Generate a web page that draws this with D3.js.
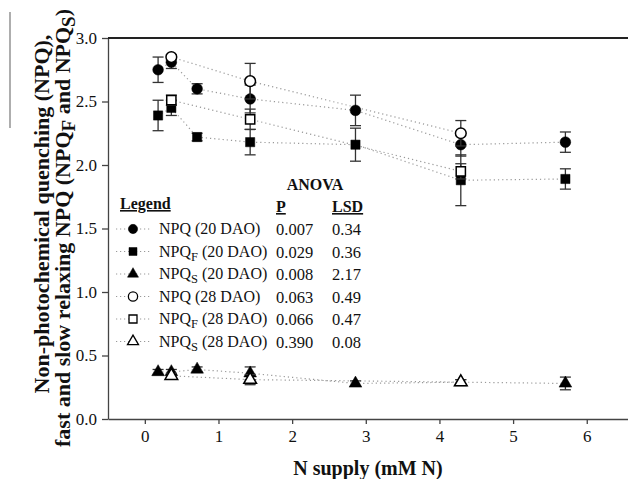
<!DOCTYPE html>
<html>
<head>
<meta charset="utf-8">
<script src="https://cdn.jsdelivr.net/npm/d3@7"></script>
<style>
  body { margin: 0; background: #fff; }
  svg text { font-family: "Liberation Serif", "Times New Roman", serif; fill: #111; }
  .title { font-weight: bold; }
</style>
</head>
<body>
<div id="chart"></div>
<script>
// N supply levels (mM N)
const nSupply20 = [0.18, 0.36, 0.71, 1.43, 2.86, 4.29, 5.71];
const nSupply28 = [0.36, 1.43, 4.29];

// 20 DAO series and their error bars
const npq20   = [2.75, 2.81, 2.60, 2.52, 2.43, 2.16, 2.18];
const npq20E  = [0.10, 0.05, 0.04, 0.11, 0.12, 0.09, 0.08];
const npqF20  = [2.39, 2.45, 2.22, 2.18, 2.16, 1.88, 1.89];
const npqF20E = [0.12, 0.06, 0.03, 0.10, 0.13, 0.20, 0.08];
const npqS20  = [0.37, 0.37, 0.39, 0.36, 0.28, 0.29, 0.28];
const npqS20E = [0.02, 0.02, 0.02, 0.05, 0.02, 0.02, 0.05];

// 28 DAO series
const npq28   = [2.85, 2.66, 2.25];
const npq28E  = [0.02, 0.14, 0.10];
const npqF28  = [2.51, 2.36, 1.95];
const npqF28E = [0.04, 0.08, 0.06];
const npqS28  = [0.34, 0.31, 0.29];
const npqS28E = [0.02, 0.04, 0.02];

// ANOVA table
const pValues   = ['0.007', '0.029', '0.008', '0.063', '0.066', '0.390'];
const lsdValues = ['0.34', '0.36', '2.17', '0.49', '0.47', '0.08'];

const yTicks = [0, 0.5, 1.0, 1.5, 2.0, 2.5, 3.0];
const xTicks = [0, 1, 2, 3, 4, 5, 6];

const series = [
  {name: 'NPQ', sub: '', dao: '20', x: nSupply20, y: npq20, e: npq20E, shape: d3.symbolCircle, open: false},
  {name: 'NPQ', sub: 'F', dao: '20', x: nSupply20, y: npqF20, e: npqF20E, shape: d3.symbolSquare, open: false},
  {name: 'NPQ', sub: 'S', dao: '20', x: nSupply20, y: npqS20, e: npqS20E, shape: d3.symbolTriangle, open: false},
  {name: 'NPQ', sub: '', dao: '28', x: nSupply28, y: npq28, e: npq28E, shape: d3.symbolCircle, open: true},
  {name: 'NPQ', sub: 'F', dao: '28', x: nSupply28, y: npqF28, e: npqF28E, shape: d3.symbolSquare, open: true},
  {name: 'NPQ', sub: 'S', dao: '28', x: nSupply28, y: npqS28, e: npqS28E, shape: d3.symbolTriangle, open: true}
];

const W = 628, H = 479;
const serif = '"Liberation Serif", "Times New Roman", serif';
const svg = d3.select('#chart').append('svg').attr('width', W).attr('height', H)
  .attr('font-family', serif);

const x = d3.scaleLinear().domain([-0.5, 6.56]).range([108, 628]);
const y = d3.scaleLinear().domain([0, 3]).range([419, 38]);

const symSize = {circle: 90, square: 85, triangle: 70};
function symPath(shape, k) {
  const s = shape === d3.symbolCircle ? symSize.circle : shape === d3.symbolSquare ? symSize.square : symSize.triangle;
  return d3.symbol().type(shape).size(s * (k || 1))();
}

// stray scan mark on the left edge
svg.append('line').attr('x1', 10).attr('x2', 10).attr('y1', 12).attr('y2', 128)
  .attr('stroke', '#777').attr('stroke-width', 1.2);

// axes
const yAxis = d3.axisLeft(y).tickValues(yTicks).tickFormat(d3.format('.1f')).tickSize(6).tickSizeOuter(0).tickPadding(5);
const gy = svg.append('g').attr('transform', 'translate(108,0)').call(yAxis);

const xAxis = d3.axisBottom(x).tickValues(xTicks).tickFormat(d3.format('d')).tickSize(5).tickSizeOuter(0).tickPadding(6);
const gx = svg.append('g').attr('transform', 'translate(0,419)').call(xAxis);

[gx, gy].forEach(g => {
  g.attr('font-family', serif).attr('font-size', 17);
  g.selectAll('path, line').attr('stroke', '#444').attr('stroke-width', 1.3);
  g.selectAll('text').attr('fill', '#111');
});

// top frame line
svg.append('line').attr('x1', 108).attr('x2', 628).attr('y1', y(3)).attr('y2', y(3))
  .attr('stroke', '#222').attr('stroke-width', 2);

// dotted connecting lines
const line = d3.line().x(d => x(d[0])).y(d => y(d[1]));
series.forEach(s => {
  const pts = s.x.map((v, i) => [v, s.y[i]]);
  svg.append('path').datum(pts).attr('d', line)
    .attr('fill', 'none').attr('stroke', '#999').attr('stroke-width', 1.2)
    .attr('stroke-dasharray', '1.2,3');
});

// error bars and markers
series.forEach(s => {
  const g = svg.append('g');
  s.x.forEach((v, i) => {
    const cx = x(v), lo = y(s.y[i] - s.e[i]), hi = y(s.y[i] + s.e[i]);
    g.append('line').attr('x1', cx).attr('x2', cx).attr('y1', lo).attr('y2', hi)
      .attr('stroke', '#333').attr('stroke-width', 1.3);
    [lo, hi].forEach(yy => {
      g.append('line').attr('x1', cx - 5.5).attr('x2', cx + 5.5).attr('y1', yy).attr('y2', yy)
        .attr('stroke', '#333').attr('stroke-width', 1.3);
    });
  });
  g.selectAll('path.pt').data(s.x).enter().append('path').attr('class', 'pt')
    .attr('d', symPath(s.shape))
    .attr('transform', (v, i) => `translate(${x(v)},${y(s.y[i])})`)
    .attr('fill', s.open ? '#fff' : '#000')
    .attr('stroke', '#000').attr('stroke-width', s.open ? 1.5 : 0.5);
});

// legend + ANOVA table
const lg = svg.append('g');
lg.append('text').attr('class', 'title').attr('x', 120).attr('y', 209)
  .style('font-size', '16px').style('text-decoration', 'underline').text('Legend');
lg.append('text').attr('class', 'title').attr('x', 315).attr('y', 190).attr('text-anchor', 'middle')
  .style('font-size', '16px').text('ANOVA');
lg.append('text').attr('class', 'title').attr('x', 276).attr('y', 212)
  .style('font-size', '16px').style('text-decoration', 'underline').text('P');
lg.append('text').attr('class', 'title').attr('x', 332).attr('y', 212)
  .style('font-size', '16px').style('text-decoration', 'underline').text('LSD');

series.forEach((s, i) => {
  const ry = 229 + i * 22.5;
  lg.append('line').attr('x1', 116).attr('x2', 151).attr('y1', ry).attr('y2', ry)
    .attr('stroke', '#999').attr('stroke-width', 1.1).attr('stroke-dasharray', '1.2,2.8');
  lg.append('path').attr('d', symPath(s.shape, 0.75)).attr('transform', `translate(133,${ry})`)
    .attr('fill', s.open ? '#fff' : '#000').attr('stroke', '#000').attr('stroke-width', s.open ? 1.3 : 0.5);
  const t = lg.append('text').attr('x', 159).attr('y', ry + 5).style('font-size', '16px');
  t.append('tspan').text(s.name);
  if (s.sub) {
    t.append('tspan').attr('dy', 4).style('font-size', '12.5px').text(s.sub);
    t.append('tspan').attr('dy', -4).text(` (${s.dao} DAO)`);
  } else {
    t.append('tspan').text(` (${s.dao} DAO)`);
  }
  lg.append('text').attr('x', 276).attr('y', ry + 6).style('font-size', '16.5px').text(pValues[i]);
  lg.append('text').attr('x', 332).attr('y', ry + 6).style('font-size', '16.5px').text(lsdValues[i]);
});

// axis titles
svg.append('text').attr('class', 'title').attr('x', 368).attr('y', 475).attr('text-anchor', 'middle')
  .style('font-size', '20px').text('N supply (mM N)');

svg.append('text').attr('class', 'title').attr('text-anchor', 'middle')
  .attr('transform', 'translate(49,214) rotate(-90)')
  .style('font-size', '22px').text('Non-photochemical quenching (NPQ),');

const yt2 = svg.append('text').attr('class', 'title').attr('text-anchor', 'middle')
  .attr('transform', 'translate(70,228) rotate(-90)').style('font-size', '22px');
yt2.append('tspan').text('fast and slow relaxing NPQ (NPQ');
yt2.append('tspan').attr('dy', 5).style('font-size', '19px').text('F');
yt2.append('tspan').attr('dy', -5).text(' and NPQ');
yt2.append('tspan').attr('dy', 5).style('font-size', '19px').text('S');
yt2.append('tspan').attr('dy', -5).text(')');
</script>
</body>
</html>
